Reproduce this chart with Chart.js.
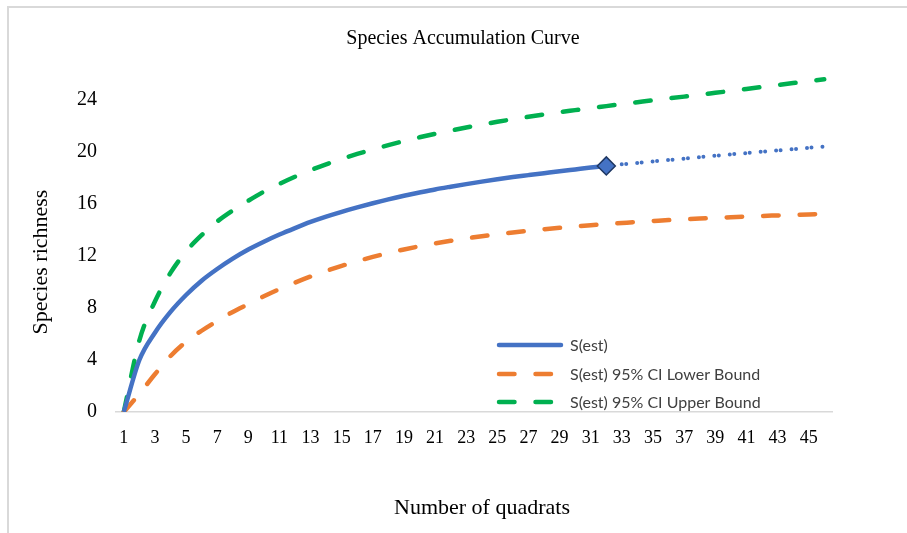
<!DOCTYPE html>
<html>
<head>
<meta charset="utf-8">
<script src="https://cdn.jsdelivr.net/npm/chart.js@4.4.1/dist/chart.umd.min.js"></script>
<style>
  html, body { margin: 0; padding: 0; background: #fff; }
  #wrap { position: relative; width: 907px; height: 533px; }
  #frame { position: absolute; left: 7px; top: 6px; right: 0; bottom: 0;
           border-top: 2px solid #d9d9d9; border-left: 2px solid #d9d9d9; }
  canvas { position: absolute; left: 0; top: 0; }
</style>
</head>
<body>
<div id="wrap">
  <div id="frame"></div>
  <canvas id="chart" width="907" height="533"></canvas>
</div>
<script>
// Species accumulation curve: estimated richness with 95% CI, plus extrapolation.
const quadrats = Array.from({ length: 46 }, (_, i) => String(i + 1));

// S(est), observed part (quadrats 1..32)
const sEst = [
  0, 4.0, 6.1, 7.7, 9.0, 10.1, 11.0, 11.8, 12.5, 13.1,
  13.65, 14.15, 14.62, 15.03, 15.4, 15.74, 16.06, 16.36, 16.63, 16.88,
  17.12, 17.33, 17.53, 17.72, 17.9, 18.07, 18.22, 18.37, 18.52, 18.66,
  18.8, 18.93
];
// S(est) extrapolated (quadrats 32..46), drawn dotted
const sExtrap = [
  18.93, 19.05, 19.16, 19.27, 19.38, 19.49, 19.6, 19.71, 19.82, 19.92,
  20.02, 20.12, 20.22, 20.32, 20.42
];
const ciLower = [
  0, 1.4, 2.9, 4.3, 5.4, 6.25, 7.0, 7.7, 8.3, 8.9,
  9.45, 9.95, 10.42, 10.85, 11.24, 11.6, 11.93, 12.23, 12.5, 12.75,
  12.97, 13.17, 13.35, 13.52, 13.67, 13.81, 13.94, 14.06, 14.17, 14.27,
  14.37, 14.46, 14.54, 14.62, 14.69, 14.76, 14.82, 14.88, 14.93, 14.98,
  15.03, 15.08, 15.12, 15.16, 15.2, 15.24
];
const ciUpper = [
  0, 5.5, 8.5, 10.7, 12.35, 13.6, 14.65, 15.5, 16.25, 16.95,
  17.55, 18.1, 18.6, 19.05, 19.47, 19.85, 20.2, 20.53, 20.84, 21.13,
  21.4, 21.65, 21.89, 22.11, 22.32, 22.52, 22.71, 22.89, 23.06, 23.22,
  23.38, 23.53, 23.68, 23.83, 23.98, 24.12, 24.26, 24.4, 24.55, 24.7,
  24.85, 25.0, 25.15, 25.3, 25.45, 25.6
];
const yTicks = [0, 4, 8, 12, 16, 20, 24];

const BLUE = '#4472C4';
const ORANGE = '#ED7D31';
const GREEN = '#00B050';

// pad extrapolation so it starts at quadrat 32
const extrapData = quadrats.map((q, i) => (i >= 31 ? sExtrap[i - 31] : null));
const estData = quadrats.map((q, i) => (i < sEst.length ? sEst[i] : null));

// Titles and the legend are drawn by hand so they sit where the original has them
const decorations = {
  id: 'decorations',
  afterDraw(chart) {
    const ctx = chart.ctx;
    ctx.save();
    ctx.fillStyle = '#000';
    ctx.textAlign = 'center';
    ctx.textBaseline = 'middle';
    ctx.font = '20px "Liberation Serif"';
    ctx.fillText('Species Accumulation Curve', 463, 39);
    ctx.font = '22px "Liberation Serif"';
    ctx.fillText('Number of quadrats', 482, 508);
    ctx.save();
    ctx.translate(41, 262);
    ctx.rotate(-Math.PI / 2);
    ctx.fillText('Species richness', 0, 0);
    ctx.restore();

    // legend inside the plot
    const items = [0, 1, 2].map(i => chart.data.datasets[i]);
    const x0 = 497, x1 = 563, tx = 570;
    const rows = [345, 374, 402];
    items.forEach((ds, i) => {
      const y = rows[i];
      ctx.beginPath();
      ctx.strokeStyle = ds.borderColor;
      ctx.lineWidth = 4.5;
      ctx.lineCap = 'round';
      ctx.setLineDash(ds.borderDash || []);
      ctx.moveTo(x0 + 2, y);
      ctx.lineTo(x1 - 2, y);
      ctx.stroke();
      ctx.setLineDash([]);
      ctx.fillStyle = '#404040';
      ctx.font = '16px Lato';
      ctx.textAlign = 'left';
      ctx.fillText(ds.label, tx, y + 1);
    });
    ctx.restore();
  },
};

new Chart(document.getElementById('chart'), {
  type: 'line',
  data: {
    labels: quadrats,
    datasets: [
      {
        label: 'S(est)',
        data: estData,
        borderColor: BLUE,
        borderWidth: 4.5,
        cubicInterpolationMode: 'monotone',
        pointRadius: quadrats.map((q, i) => (i === 31 ? 9 : 0)),
        pointStyle: 'rectRot',
        pointBackgroundColor: BLUE,
        pointBorderColor: '#1F3864',
        pointBorderWidth: 1.5,
        order: 0,
      },
      {
        label: 'S(est) 95% CI Lower Bound',
        data: ciLower,
        borderColor: ORANGE,
        borderWidth: 4.5,
        borderDash: [15.5, 21],
        borderCapStyle: 'round',
        cubicInterpolationMode: 'monotone',
        pointRadius: 0,
        order: 2,
      },
      {
        label: 'S(est) 95% CI Upper Bound',
        data: ciUpper,
        borderColor: GREEN,
        borderWidth: 4.5,
        borderDash: [15.5, 21],
        borderCapStyle: 'round',
        cubicInterpolationMode: 'monotone',
        pointRadius: 0,
        order: 2,
      },
      {
        label: 'S(est) extrapolated',
        data: extrapData,
        borderColor: BLUE,
        borderWidth: 4,
        borderDash: [0, 4.5, 0, 11],
        borderCapStyle: 'round',
        cubicInterpolationMode: 'monotone',
        pointRadius: 0,
        order: 1,
      },
    ],
  },
  options: {
    responsive: false,
    animation: false,
    events: [],
    layout: { padding: { left: 22, right: 75, top: 48, bottom: 9 } },
    plugins: {
      legend: { display: false },
      tooltip: { enabled: false },
      title: { display: false },
    },
    scales: {
      x: {
        offset: true,
        grid: { display: false, drawTicks: false },
        border: { display: true, color: '#d9d9d9', width: 1.5 },
        ticks: {
          autoSkip: false,
          maxRotation: 0,
          padding: 15,
          color: '#000',
          font: { family: 'Liberation Serif', size: 18 },
          callback: (v, i) => (i % 2 === 0 ? quadrats[i] : ''),
        },
        afterFit: (s) => { s.height = 112; },
      },
      y: {
        min: 0,
        max: 28,
        grid: { display: false, drawTicks: false },
        border: { display: false },
        afterBuildTicks: (s) => { s.ticks = yTicks.map(v => ({ value: v })); },
        ticks: {
          padding: 19,
          color: '#000',
          font: { family: 'Liberation Serif', size: 20 },
        },
        afterFit: (s) => { s.width = 94; },
      },
    },
  },
  plugins: [decorations],
});
</script>
</body>
</html>
